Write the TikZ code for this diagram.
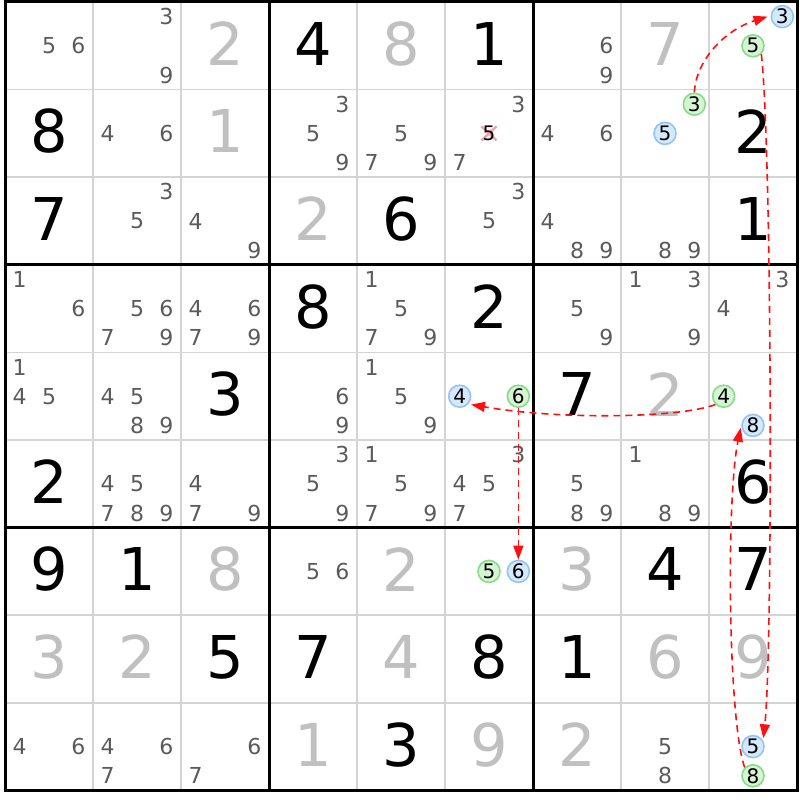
\documentclass[tikz,border=0pt]{standalone}
\usepackage{fontspec}
\setmainfont{DejaVu Sans}
\usetikzlibrary{arrows.meta}
\definecolor{candc}{HTML}{5A5A5A}
\definecolor{solvc}{HTML}{C0C0C0}
\definecolor{gridc}{HTML}{D4D4D4}
\definecolor{bluefill}{HTML}{D6E9FC}
\definecolor{blueline}{HTML}{92C4F2}
\definecolor{greenfill}{HTML}{D5F5D5}
\definecolor{greenline}{HTML}{88DB88}
\definecolor{arrowc}{HTML}{FF1010}
\definecolor{crossc}{HTML}{F4A0A8}
\tikzset{
  givenst/.style={font=\fontsize{59}{59}\selectfont, text=black, inner sep=0pt},
  solvst/.style={font=\fontsize{59}{59}\selectfont, text=solvc, inner sep=0pt},
  candst/.style={font=\fontsize{22}{22}\selectfont, text=candc, inner sep=0pt},
  hc/.style={circle, minimum size=22pt, inner sep=0pt, line width=1.6pt, font=\fontsize{20}{20}\selectfont, text=black},
  bluec/.style={hc, fill=bluefill, draw=blueline},
  greenc/.style={hc, fill=greenfill, draw=greenline},
  thinline/.style={draw=gridc, line width=1.5pt},
  thickline/.style={draw=black, line width=3pt},
  lnk/.style={draw=arrowc, line width=1.6pt, dash pattern=on 7pt off 5pt, -{Triangle[length=14pt,width=10pt]}}
}
\newcommand\givn[3]{\node[givenst] at ({5+88*(#2-0.5)},{2+87.6*(#1-0.5)-2}) {#3};}
\newcommand\solv[3]{\node[solvst] at ({5+88*(#2-0.5)},{2+87.6*(#1-0.5)-2}) {#3};}
\newcommand\cand[3]{\foreach \n in {#3}{\node[candst] at ({5+88*(#2-1)+88*(2*mod(\n-1,3)+1)/6},{2+87.6*(#1-1)+87.6*(2*floor((\n-1)/3)+1)/6}) {\n};}}
\newcommand\hcand[5]{\node[#5] (#1) at ({5+88*(#3-1)+88*(2*mod(#4-1,3)+1)/6},{2+87.6*(#2-1)+87.6*(2*floor((#4-1)/3)+1)/6}) {#4};}
\begin{document}
\begin{tikzpicture}[x=1pt,y=-1pt]
\useasboundingbox (0,0) rectangle (800,800);
\fill[white] (0,0) rectangle (800,800);
% thin grid
\foreach \i in {1,2,4,5,7,8}{
  \draw[thinline] ({5+88*\i},2) -- ({5+88*\i},790.4);
  \draw[thinline] (5,{2+87.6*\i}) -- (797,{2+87.6*\i});
}
\foreach \i in {0,3,6,9}{
  \draw[thickline] ({5+88*\i},0.5) -- ({5+88*\i},791.9);
  \draw[thickline] (3.5,{2+87.6*\i}) -- (798.5,{2+87.6*\i});
}
% row 1
\cand{1}{1}{5,6} \cand{1}{2}{3,9} \solv{1}{3}{2} \givn{1}{4}{4} \solv{1}{5}{8} \givn{1}{6}{1}
\cand{1}{7}{6,9} \solv{1}{8}{7}
% row 2
\givn{2}{1}{8} \cand{2}{2}{4,6} \solv{2}{3}{1} \cand{2}{4}{3,5,9} \cand{2}{5}{5,7,9} \cand{2}{6}{3,7}
\cand{2}{7}{4,6} \givn{2}{9}{2}
% row 3
\givn{3}{1}{7} \cand{3}{2}{3,5} \cand{3}{3}{4,9} \solv{3}{4}{2} \givn{3}{5}{6} \cand{3}{6}{3,5}
\cand{3}{7}{4,8,9} \cand{3}{8}{8,9} \givn{3}{9}{1}
% row 4
\cand{4}{1}{1,6} \cand{4}{2}{5,6,7,9} \cand{4}{3}{4,6,7,9} \givn{4}{4}{8} \cand{4}{5}{1,5,7,9} \givn{4}{6}{2}
\cand{4}{7}{5,9} \cand{4}{8}{1,3,9} \cand{4}{9}{3,4}
% row 5
\cand{5}{1}{1,4,5} \cand{5}{2}{4,5,8,9} \givn{5}{3}{3} \cand{5}{4}{6,9} \cand{5}{5}{1,5,9}
\givn{5}{7}{7} \solv{5}{8}{2}
% row 6
\givn{6}{1}{2} \cand{6}{2}{4,5,7,8,9} \cand{6}{3}{4,7,9} \cand{6}{4}{3,5,9} \cand{6}{5}{1,5,7,9} \cand{6}{6}{3,4,5,7}
\cand{6}{7}{5,8,9} \cand{6}{8}{1,8,9} \givn{6}{9}{6}
% row 7
\givn{7}{1}{9} \givn{7}{2}{1} \solv{7}{3}{8} \cand{7}{4}{5,6} \solv{7}{5}{2}
\solv{7}{7}{3} \givn{7}{8}{4} \givn{7}{9}{7}
% row 8
\solv{8}{1}{3} \solv{8}{2}{2} \givn{8}{3}{5} \givn{8}{4}{7} \solv{8}{5}{4} \givn{8}{6}{8}
\givn{8}{7}{1} \solv{8}{8}{6} \solv{8}{9}{9}
% row 9
\cand{9}{1}{4,6} \cand{9}{2}{4,6,7} \cand{9}{3}{6,7} \solv{9}{4}{1} \givn{9}{5}{3} \solv{9}{6}{9}
\solv{9}{7}{2} \cand{9}{8}{5,8}
% crossed candidate
\coordinate (xc) at (489,133.4);
\draw[crossc, line width=2.4pt] ([shift={(-7.5,-7)}]xc) -- ([shift={(7.5,7)}]xc);
\draw[crossc, line width=2.4pt] ([shift={(-7.5,7)}]xc) -- ([shift={(7.5,-7)}]xc);
\node[font=\fontsize{20}{20}\selectfont, inner sep=0pt] (x5) at (xc) {5};
% highlighted candidates
\hcand{b3}{1}{9}{3}{bluec}
\hcand{g5a}{1}{9}{5}{greenc}
\hcand{g3}{2}{8}{3}{greenc}
\hcand{b5a}{2}{8}{5}{bluec}
\hcand{b4}{5}{6}{4}{bluec}
\hcand{g6}{5}{6}{6}{greenc}
\hcand{g4}{5}{9}{4}{greenc}
\hcand{b8}{5}{9}{8}{bluec}
\hcand{g5b}{7}{6}{5}{greenc}
\hcand{b6}{7}{6}{6}{bluec}
\hcand{b5b}{9}{9}{5}{bluec}
\hcand{g8}{9}{9}{8}{greenc}
% links
\draw[lnk] (g3.north) .. controls (696,60) and (725,30) .. ([xshift=-3pt]b3.west);
\draw[lnk] (g5a.south east) .. controls (772,150) and (773,650) .. ([xshift=2pt]b5b.north east);
\draw[lnk] (g8.north west) .. controls (728,720) and (726,500) .. ([shift={(-4pt,6pt)}]b8.south west);
\draw[lnk] (g4.south west) .. controls (680,418) and (560,420) .. ([xshift=3pt]b4.south east);
\draw[lnk] (g6.south) -- (b6.north);
\end{tikzpicture}
\end{document}
